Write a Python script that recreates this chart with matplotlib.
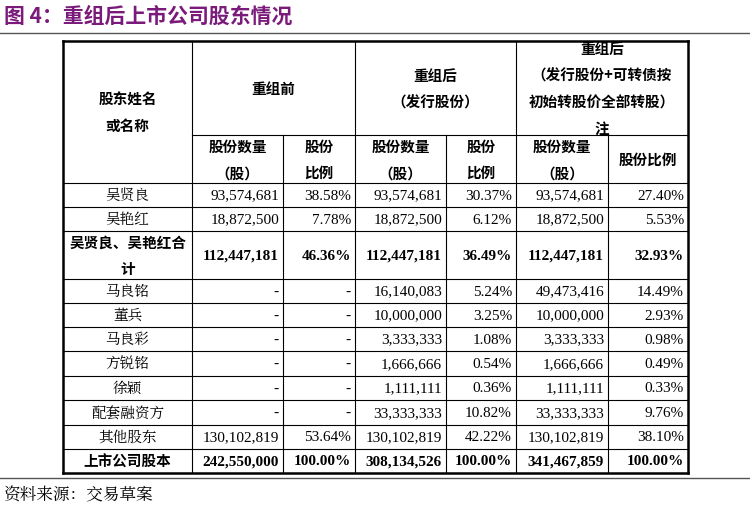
import matplotlib
matplotlib.use("Agg")
import matplotlib.pyplot as plt

names = ["吴贤良", "吴艳红", "吴贤良、吴艳红合\n计", "马良铭", "董兵", "马良彩", "方锐铭", "徐颖", "配套融资方", "其他股东", "上市公司股本"]
before_qty = ["93,574,681", "18,872,500", "112,447,181", "-", "-", "-", "-", "-", "-", "130,102,819", "242,550,000"]
before_pct = ["38.58%", "7.78%", "46.36%", "-", "-", "-", "-", "-", "-", "53.64%", "100.00%"]
after_qty = ["93,574,681", "18,872,500", "112,447,181", "16,140,083", "10,000,000", "3,333,333", "1,666,666", "1,111,111", "33,333,333", "130,102,819", "308,134,526"]
after_pct = ["30.37%", "6.12%", "36.49%", "5.24%", "3.25%", "1.08%", "0.54%", "0.36%", "10.82%", "42.22%", "100.00%"]
conv_qty = ["93,574,681", "18,872,500", "112,447,181", "49,473,416", "10,000,000", "3,333,333", "1,666,666", "1,111,111", "33,333,333", "130,102,819", "341,467,859"]
conv_pct = ["27.40%", "5.53%", "32.93%", "14.49%", "2.93%", "0.98%", "0.49%", "0.33%", "9.76%", "38.10%", "100.00%"]
bold_rows = [2, 10]

fig = plt.figure(figsize=(7.5, 5.06), dpi=100)
ax = fig.add_axes([0, 0, 1, 1])
ax.set_xlim(0, 750); ax.set_ylim(506, 0); ax.axis("off")

CJK = ["Noto Sans CJK SC", "DejaVu Sans"]
SER = ["Liberation Serif", "Noto Sans CJK SC"]

ax.text(4, 16, "图 4：重组后上市公司股东情况", color="#7a1a7a", fontsize=15, fontweight="bold",
        family=CJK, va="center", ha="left")
ax.plot([0, 750], [34, 34], color="#555", lw=1)
ax.plot([0, 750], [479, 479], color="#555", lw=1)
ax.text(4, 495, "资料来源：交易草案", fontsize=12, family=["Noto Serif CJK SC", "Noto Sans CJK SC"], va="center")

xs = [63, 192, 283, 355, 446, 516, 608, 688]
top, hmid, hbot = 42, 136, 184
rows = [184, 208, 232, 280, 304, 328, 352, 377, 401, 426, 450, 474]

k = dict(color="black", lw=0.8)
ax.plot([xs[0], xs[-1]], [top, top], color="black", lw=1.8)
ax.plot([xs[0], xs[-1]], [rows[-1], rows[-1]], color="black", lw=1.8)
ax.plot([xs[0], xs[0]], [top, rows[-1]], color="black", lw=1.8)
ax.plot([xs[-1], xs[-1]], [top, rows[-1]], color="black", lw=1.8)
ax.plot([xs[1], xs[-1]], [hmid, hmid], **k)
for y in rows[:-1]:
    ax.plot([xs[0], xs[-1]], [y, y], **k)
for i, x in enumerate(xs[1:-1], start=1):
    y0 = top if i % 2 == 1 else hmid
    ax.plot([x, x], [y0, rows[-1]], **k)

hk = dict(family=CJK, fontsize=10.5, fontweight="bold", ha="center", va="center", linespacing=1.8)
ax.text((xs[0]+xs[1])/2, 113, "股东姓名\n或名称", **hk)
ax.text((xs[1]+xs[3])/2, 89, "重组前", **hk)
ax.text((xs[3]+xs[5])/2, 89, "重组后\n（发行股份）", **hk)
ax.text((xs[5]+xs[7])/2, 89, "重组后\n（发行股份+可转债按\n初始转股价全部转股）\n注", **hk)
subs = ["股份数量\n（股）", "股份\n比例"] * 2 + ["股份数量\n（股）", "股份比例"]
for j, s in enumerate(subs):
    ax.text((xs[j+1]+xs[j+2])/2, 160, s, **hk)

cols = [before_qty, before_pct, after_qty, after_pct, conv_qty, conv_pct]
for i, nm in enumerate(names):
    yc = (rows[i] + rows[i+1]) / 2
    b = i in bold_rows
    ax.text((xs[0]+xs[1])/2, yc, nm, family=CJK if b else ["Noto Serif CJK SC", "Noto Sans CJK SC"],
            fontsize=10.5, fontweight="bold" if b else "normal", ha="center", va="center", linespacing=1.8)
    for j, col in enumerate(cols):
        ax.text(xs[j+2]-4, yc, col[i], family=SER, fontsize=11,
                fontweight="bold" if b else "normal", ha="right", va="center")

fig.savefig("out.png", dpi=100)
